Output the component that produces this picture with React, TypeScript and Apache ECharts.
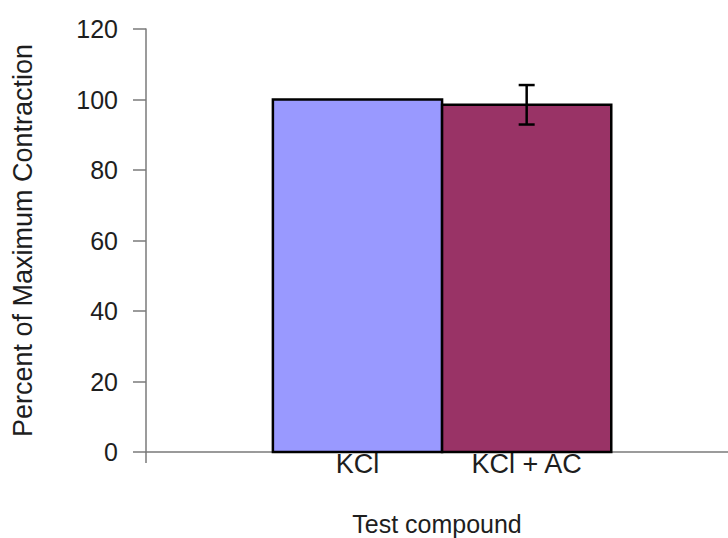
import React, { useEffect, useRef } from "react";
import * as echarts from "echarts";

// Normalised contraction (% of KCl maximum) with SEM
const categories = ["KCl", "KCl + AC"];
const means = [100, 98.5];
const sem = [0, 5.6];
const barColors = ["#9999ff", "#993366"];

// y scale
const Y_MIN = 0;
const Y_MAX = 120;
const Y_STEP = 20;

// x scale in bar-width units; bar i is centred at FIRST_CENTER + i
const X_MAX = 3.44;
const FIRST_CENTER = 1.25;

const FONT = "'Liberation Sans', Arial, Helvetica, sans-serif";
const TEXT = "#1e1e1e";
const AXIS = "#7a7a7a";

export default function App() {
  const ref = useRef<HTMLDivElement>(null);

  useEffect(() => {
    if (!ref.current) return;
    const chart = echarts.init(ref.current, null, { renderer: "svg" });

    const centers = categories.map((_, i) => FIRST_CENTER + i);
    const barData = categories.map((_, i) => [centers[i], means[i]]);
    const errData = categories
      .map((_, i) => [centers[i], means[i] - sem[i], means[i] + sem[i]])
      .filter((d) => d[2] - d[1] > 0);

    chart.setOption({
      animation: false,
      backgroundColor: "#ffffff",
      grid: {
        left: 146,
        right: 0,
        top: 29,
        bottom: 86,
        containLabel: false,
        outerBoundsMode: "none",
      },
      xAxis: {
        type: "value",
        min: 0,
        max: X_MAX,
        splitLine: { show: false },
        axisTick: { show: false },
        axisLine: { show: true, onZero: false, lineStyle: { color: AXIS, width: 1.5 } },
        axisLabel: {
          customValues: centers,
          formatter: (v: number) => categories[Math.round(v - FIRST_CENTER)] ?? "",
          color: TEXT,
          fontFamily: FONT,
          fontSize: 27,
          margin: -2,
        },
        name: "Test compound",
        nameLocation: "middle",
        nameGap: 59,
        nameTextStyle: { color: TEXT, fontFamily: FONT, fontSize: 25 },
      },
      yAxis: {
        type: "value",
        min: Y_MIN,
        max: Y_MAX,
        interval: Y_STEP,
        splitLine: { show: false },
        axisLine: { show: true, lineStyle: { color: AXIS, width: 1.5 } },
        axisTick: { show: true, length: 13, lineStyle: { color: AXIS, width: 1.5 } },
        axisLabel: { color: TEXT, fontFamily: FONT, fontSize: 25, margin: 28 },
        name: "Percent of Maximum Contraction",
        nameLocation: "middle",
        nameGap: 110,
        nameTextStyle: { color: TEXT, fontFamily: FONT, fontSize: 27 },
      },
      series: [
        {
          type: "custom",
          data: barData,
          encode: { x: 0, y: 1 },
          renderItem: (params: any, api: any) => {
            const c = api.value(0);
            const v = api.value(1);
            const tl = api.coord([c - 0.5, v]);
            const br = api.coord([c + 0.5, 0]);
            return {
              type: "rect",
              shape: { x: tl[0], y: tl[1], width: br[0] - tl[0], height: br[1] - tl[1] },
              style: {
                fill: barColors[params.dataIndex],
                stroke: "#000000",
                lineWidth: 2.5,
              },
            };
          },
          z: 2,
        },
        {
          type: "custom",
          data: errData,
          encode: { x: 0, y: [1, 2] },
          renderItem: (_params: any, api: any) => {
            const c = api.value(0);
            const lo = api.coord([c, api.value(1)]);
            const hi = api.coord([c, api.value(2)]);
            const cap = 8;
            const st = { stroke: "#000000", lineWidth: 2.5 };
            return {
              type: "group",
              children: [
                { type: "line", shape: { x1: lo[0], y1: lo[1], x2: hi[0], y2: hi[1] }, style: st },
                { type: "line", shape: { x1: hi[0] - cap, y1: hi[1], x2: hi[0] + cap, y2: hi[1] }, style: st },
                { type: "line", shape: { x1: lo[0] - cap, y1: lo[1], x2: lo[0] + cap, y2: lo[1] }, style: st },
              ],
            };
          },
          z: 3,
        },
      ],
      graphic: [
        // y axis runs a little below the x axis
        {
          type: "line",
          shape: { x1: 146, y1: 452, x2: 146, y2: 463 },
          style: { stroke: AXIS, lineWidth: 1.5 },
          silent: true,
        },
      ],
    });

    return () => chart.dispose();
  }, []);

  return (
    <div
      ref={ref}
      style={{ position: "absolute", left: 0, top: 0, width: 728, height: 538 }}
    />
  );
}
